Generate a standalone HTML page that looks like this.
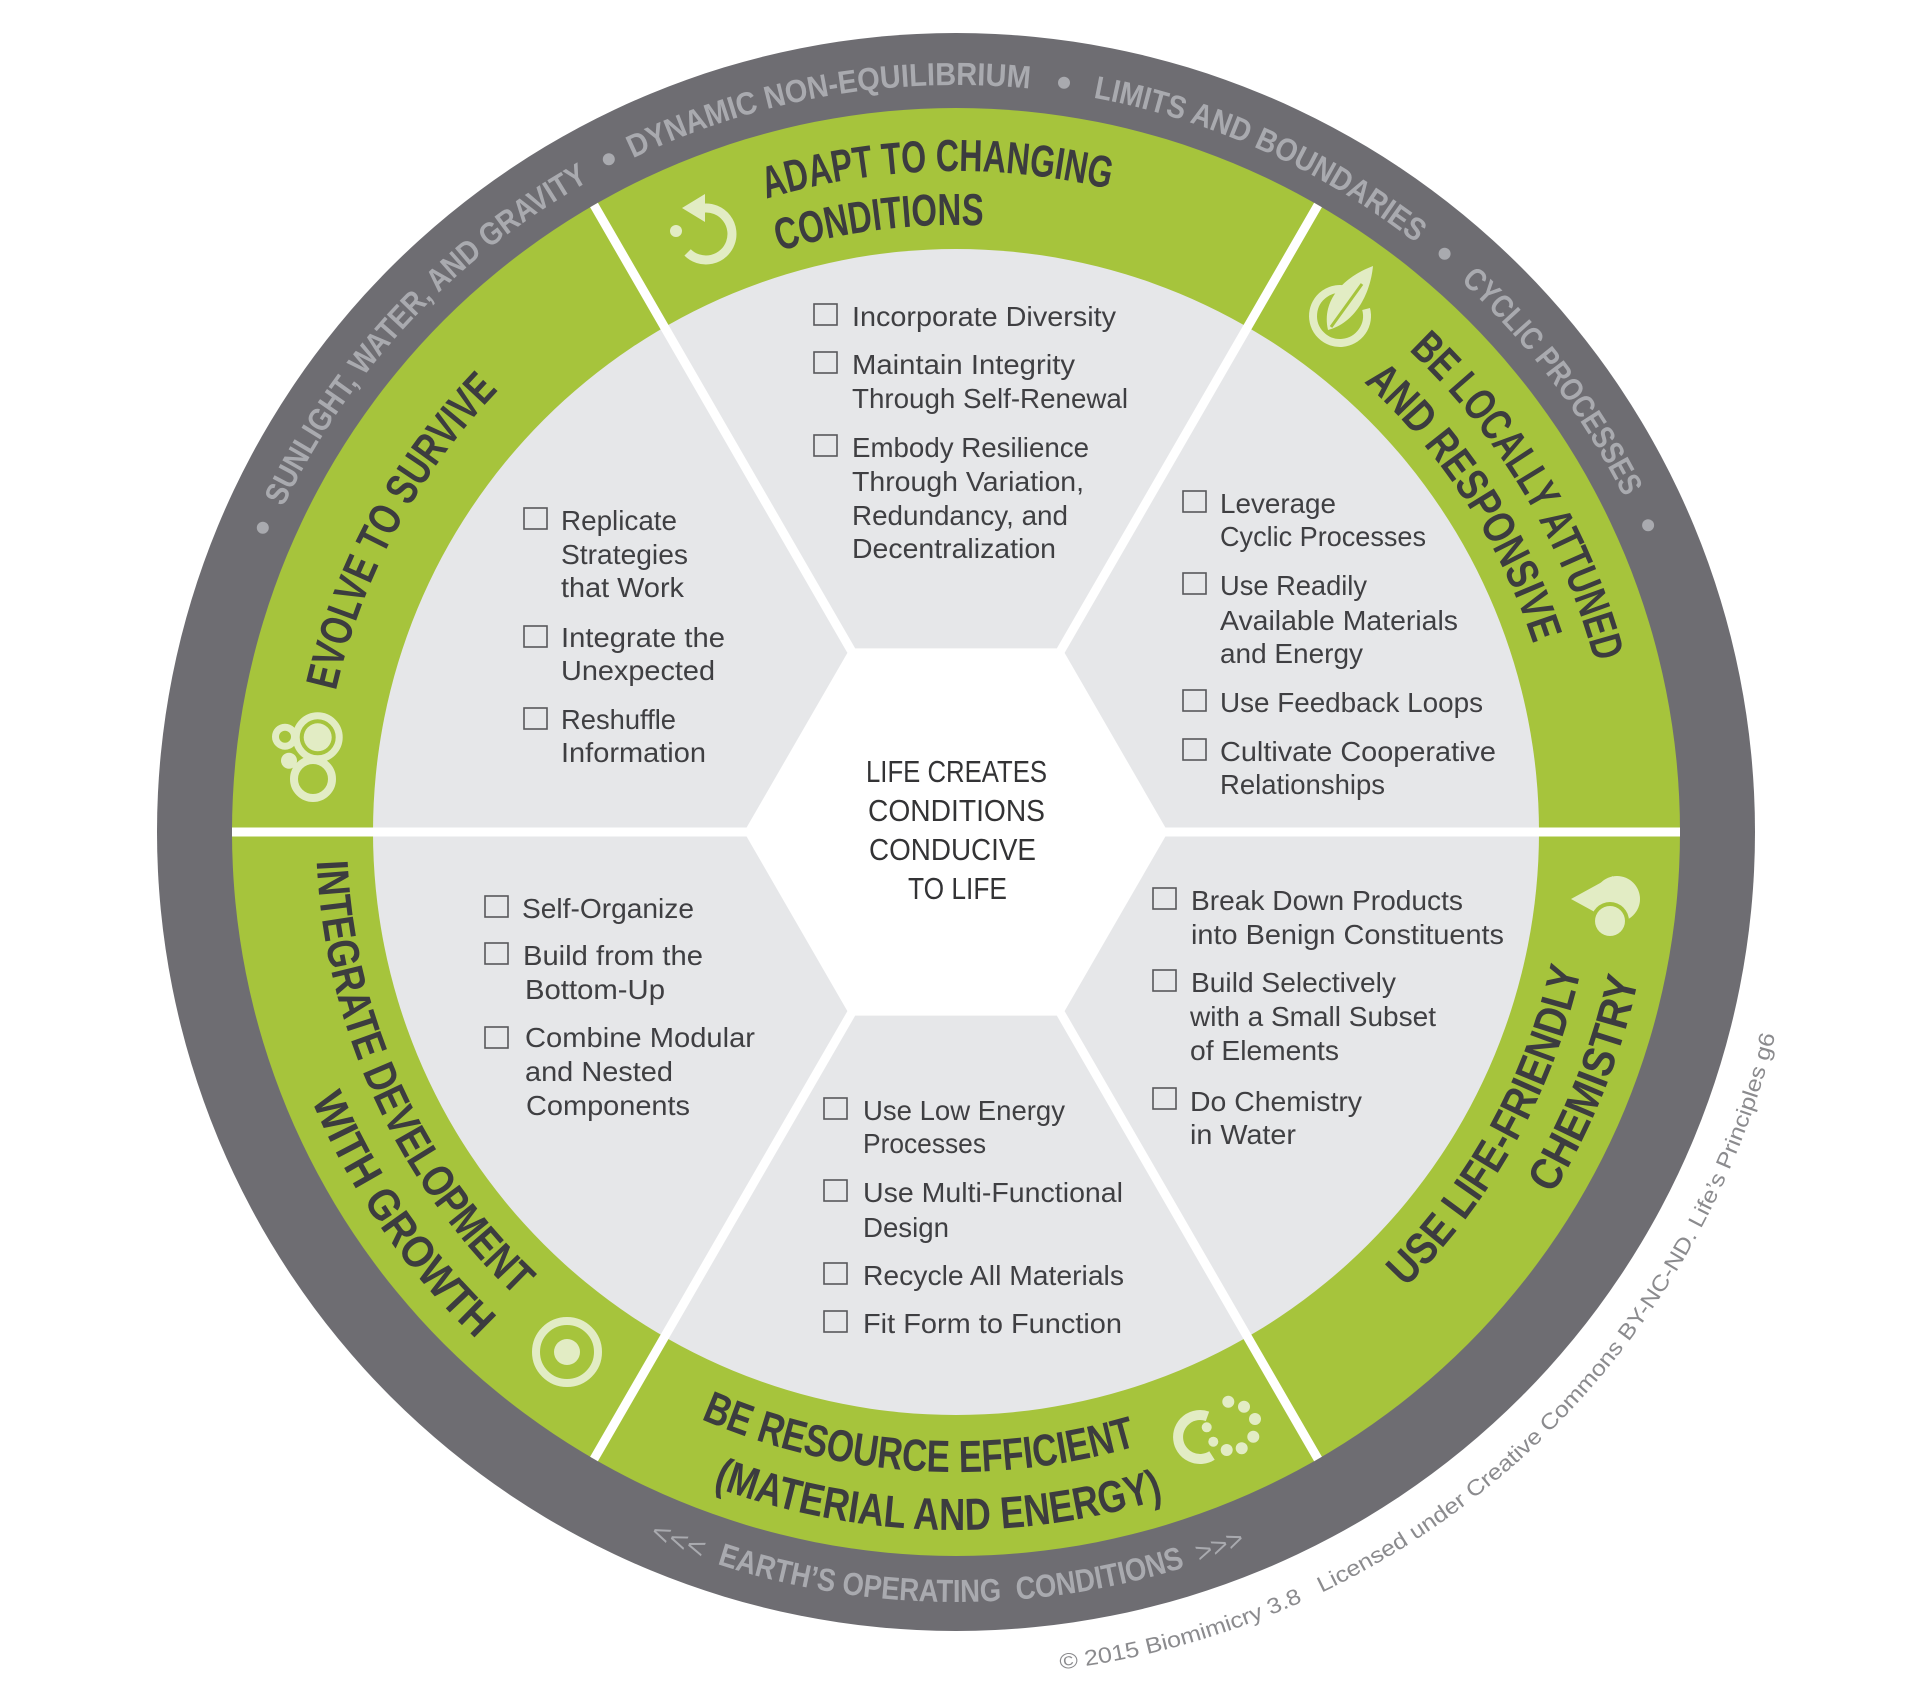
<!DOCTYPE html>
<html>
<head>
<meta charset="utf-8">
<style>
  html,body{margin:0;padding:0;background:#ffffff;}
  svg{display:block;}
  .lbl{font-family:"Liberation Sans Narrow","Liberation Sans",sans-serif;font-weight:bold;font-size:45px;fill:#3c3c3f;}
  .ring{font-family:"Liberation Sans Narrow","Liberation Sans",sans-serif;font-weight:bold;font-size:32px;fill:#a9aaaf;}
  .chev{font-family:"Liberation Sans",sans-serif;font-weight:normal;font-size:28px;fill:#a9aaaf;}
  .li{font-family:"Liberation Sans",sans-serif;font-size:28px;fill:#3f3f42;}
  .ctr{font-family:"Liberation Sans",sans-serif;font-size:31px;fill:#333335;}
  .copy{font-family:"Liberation Sans",sans-serif;font-size:22px;fill:#8b8b8e;white-space:pre;}
  .pre{white-space:pre;}
</style>
</head>
<body>
<svg width="1920" height="1697" viewBox="0 0 1920 1697" xmlns="http://www.w3.org/2000/svg">
  <defs>
    <path id="cw661" d="M956,1493 A661,661 0 1 1 956,171 A661,661 0 1 1 956,1493"/>
    <path id="cw607" d="M956,1439 A607,607 0 1 1 956,225 A607,607 0 1 1 956,1439"/>
    <path id="cw636" d="M956,1468 A636,636 0 1 1 956,196 A636,636 0 1 1 956,1468"/>
    <path id="cw747" d="M956,1579 A747,747 0 1 1 956,85 A747,747 0 1 1 956,1579"/>
    <path id="ccw640" d="M956,192 A640,640 0 1 0 956,1472 A640,640 0 1 0 956,192"/>
    <path id="ccw698" d="M956,134 A698,698 0 1 0 956,1530 A698,698 0 1 0 956,134"/>
    <path id="ccw770" d="M956,62 A770,770 0 1 0 956,1602 A770,770 0 1 0 956,62"/>
    <path id="ccw844" d="M956,-12 A844,844 0 1 0 956,1676 A844,844 0 1 0 956,-12"/>
  </defs>

  <rect x="0" y="0" width="1920" height="1697" fill="#ffffff"/>

  <!-- rings -->
  <circle cx="956" cy="832" r="799" fill="#6e6d72"/>
  <circle cx="956" cy="832" r="724" fill="#a6c43c"/>
  <circle cx="956" cy="832" r="583" fill="#e6e7e9"/>

  <!-- hexagon -->
  <polygon points="1168,832 1062,648.4 850,648.4 744,832 850,1015.6 1062,1015.6" fill="#ffffff"/>

  <!-- dividers -->
  <g stroke="#ffffff" stroke-width="9">
    <line x1="956" y1="832" x2="1680" y2="832"/>
    <line x1="956" y1="832" x2="232" y2="832"/>
    <line x1="956" y1="832" x2="1318" y2="205"/>
    <line x1="956" y1="832" x2="594" y2="205"/>
    <line x1="956" y1="832" x2="594" y2="1459"/>
    <line x1="956" y1="832" x2="1318" y2="1459"/>
  </g>

  <!-- outer ring text -->
  <text class="ring" textLength="453.7" lengthAdjust="spacingAndGlyphs"><textPath href="#cw747" startOffset="1509.8">SUNLIGHT, WATER, AND GRAVITY</textPath></text>
  <text class="ring" textLength="408.1" lengthAdjust="spacingAndGlyphs"><textPath href="#cw747" startOffset="2013">DYNAMIC NON-EQUILIBRIUM</textPath></text>
  <text class="ring" textLength="357.2" lengthAdjust="spacingAndGlyphs"><textPath href="#cw747" startOffset="2485">LIMITS AND BOUNDARIES</textPath></text>
  <text class="ring" textLength="272.5" lengthAdjust="spacingAndGlyphs"><textPath href="#cw747" startOffset="2900.9">CYCLIC PROCESSES</textPath></text>
  <g fill="#a9aaaf">
    <circle cx="262.8" cy="527.8" r="6"/>
    <circle cx="608.8" cy="159.3" r="6"/>
    <circle cx="1064" cy="82.7" r="6"/>
    <circle cx="1444.6" cy="253.8" r="6"/>
    <circle cx="1648.1" cy="525.3" r="6"/>
  </g>
  <text class="chev" textLength="56.4" lengthAdjust="spacingAndGlyphs"><textPath href="#ccw770" startOffset="2103.2">&lt;&lt;&lt;</textPath></text>
  <text class="ring pre" textLength="475.7" lengthAdjust="spacingAndGlyphs"><textPath href="#ccw770" startOffset="2175.8">EARTH’S OPERATING  CONDITIONS</textPath></text>
  <text class="chev" textLength="49.7" lengthAdjust="spacingAndGlyphs"><textPath href="#ccw770" startOffset="2666.3">&gt;&gt;&gt;</textPath></text>

  <!-- green labels -->
  <text class="lbl" textLength="347.2" lengthAdjust="spacingAndGlyphs"><textPath href="#cw661" startOffset="1883.9">ADAPT TO CHANGING</textPath></text>
  <text class="lbl" textLength="206.6" lengthAdjust="spacingAndGlyphs"><textPath href="#cw607" startOffset="1727.9">CONDITIONS</textPath></text>
  <text class="lbl" textLength="368" lengthAdjust="spacingAndGlyphs"><textPath href="#cw661" startOffset="2575">BE LOCALLY ATTUNED</textPath></text>
  <text class="lbl" textLength="315.7" lengthAdjust="spacingAndGlyphs"><textPath href="#cw607" startOffset="2354">AND RESPONSIVE</textPath></text>
  <text class="lbl" textLength="346.3" lengthAdjust="spacingAndGlyphs"><textPath href="#cw636" startOffset="1141.1">EVOLVE TO SURVIVE</textPath></text>
  <text class="lbl" textLength="445.7" lengthAdjust="spacingAndGlyphs"><textPath href="#ccw640" startOffset="1748.1">BE RESOURCE EFFICIENT</textPath></text>
  <text class="lbl" textLength="459.3" lengthAdjust="spacingAndGlyphs"><textPath href="#ccw698" startOffset="1944.3">(MATERIAL AND ENERGY)</textPath></text>
  <text class="lbl" textLength="368.6" lengthAdjust="spacingAndGlyphs"><textPath href="#ccw640" startOffset="2508.8">USE LIFE-FRIENDLY</textPath></text>
  <text class="lbl" textLength="232.7" lengthAdjust="spacingAndGlyphs"><textPath href="#ccw698" startOffset="2907.9">CHEMISTRY</textPath></text>
  <text class="lbl" textLength="490.4" lengthAdjust="spacingAndGlyphs"><textPath href="#ccw640" startOffset="1034.4">INTEGRATE DEVELOPMENT</textPath></text>
  <text class="lbl" textLength="292.4" lengthAdjust="spacingAndGlyphs"><textPath href="#ccw698" startOffset="1371.7">WITH GROWTH</textPath></text>

  <!-- icons -->
  <g fill="#e2ecc4" stroke="none">
    <!-- adapt: circular arrow -->
    <path d="M703.7,208.1 A26,26 0 1 1 687.6,252.4" fill="none" stroke="#e2ecc4" stroke-width="9"/>
    <polygon points="682,208 705,194 705,222"/>
    <circle cx="676" cy="231" r="6"/>

    <!-- leaf -->
    <path d="M1366.1,309 A27,27 0 1 1 1347,289.9" fill="none" stroke="#e2ecc4" stroke-width="8"/>
    <path d="M1328,330 C1321,300 1344,277 1373,266 C1370,296 1354,323 1328,330 Z"/>
    <path d="M1331,327 L1362,284" stroke="#a6c43c" stroke-width="3" fill="none"/>

    <!-- bubbles (evolve) -->
    <circle cx="317.7" cy="737.3" r="21.5" fill="none" stroke="#e2ecc4" stroke-width="7"/>
    <circle cx="317.7" cy="737.3" r="14"/>
    <circle cx="313" cy="779" r="19" fill="none" stroke="#e2ecc4" stroke-width="8"/>
    <circle cx="285" cy="736.7" r="9.5" fill="none" stroke="#e2ecc4" stroke-width="7"/>
    <circle cx="289" cy="760.7" r="8"/>

    <!-- shell (chemistry) -->
    <circle cx="1617" cy="899" r="23"/>
    <polygon points="1571,899 1613,876 1613,922"/>
    <circle cx="1610" cy="921" r="19" fill="#a6c43c"/>
    <circle cx="1610" cy="921" r="15"/>

    <!-- target (integrate) -->
    <circle cx="567" cy="1352" r="31" fill="none" stroke="#e2ecc4" stroke-width="8"/>
    <circle cx="567" cy="1352" r="13"/>

    <!-- resource -->
    <path d="M1212,1455.5 A22,22 0 1 1 1207.5,1416.3" fill="none" stroke="#e2ecc4" stroke-width="10"/>
    <circle cx="1206.7" cy="1427.3" r="5"/>
    <circle cx="1213.3" cy="1441.7" r="5"/>
    <circle cx="1226.7" cy="1450" r="6"/>
    <circle cx="1241.7" cy="1448.3" r="6"/>
    <circle cx="1253.3" cy="1436.7" r="6"/>
    <circle cx="1255" cy="1419" r="6"/>
    <circle cx="1244" cy="1406.7" r="6"/>
    <circle cx="1228.3" cy="1401.7" r="6"/>
  </g>

  <!-- center text -->
  <text class="ctr" x="866" y="782" textLength="181" lengthAdjust="spacingAndGlyphs">LIFE CREATES</text>
  <text class="ctr" x="868" y="821" textLength="177" lengthAdjust="spacingAndGlyphs">CONDITIONS</text>
  <text class="ctr" x="869" y="860" textLength="167" lengthAdjust="spacingAndGlyphs">CONDUCIVE</text>
  <text class="ctr" x="908" y="899" textLength="99" lengthAdjust="spacingAndGlyphs">TO LIFE</text>

  <!-- checkboxes -->
  <g fill="none" stroke="#58585b" stroke-width="1.6">
    <rect x="814" y="304" width="23" height="21"/>
    <rect x="814" y="352" width="23" height="21"/>
    <rect x="814" y="435" width="23" height="21"/>

    <rect x="524" y="508" width="23" height="21"/>
    <rect x="524" y="626" width="23" height="21"/>
    <rect x="524" y="708" width="23" height="21"/>

    <rect x="1183" y="491" width="23" height="21"/>
    <rect x="1183" y="573" width="23" height="21"/>
    <rect x="1183" y="690" width="23" height="21"/>
    <rect x="1183" y="739" width="23" height="21"/>

    <rect x="485" y="896" width="23" height="21"/>
    <rect x="485" y="943" width="23" height="21"/>
    <rect x="485" y="1027" width="23" height="21"/>

    <rect x="1153" y="888" width="23" height="21"/>
    <rect x="1153" y="970" width="23" height="21"/>
    <rect x="1153" y="1088" width="23" height="21"/>

    <rect x="824" y="1098" width="23" height="21"/>
    <rect x="824" y="1180" width="23" height="21"/>
    <rect x="824" y="1263" width="23" height="21"/>
    <rect x="824" y="1311" width="23" height="21"/>
  </g>

  <!-- list text: top -->
  <g class="li">
    <text class="li" x="852" y="326" textLength="264" lengthAdjust="spacingAndGlyphs">Incorporate Diversity</text>
    <text class="li" x="852" y="374" textLength="223" lengthAdjust="spacingAndGlyphs">Maintain Integrity</text>
    <text class="li" x="852" y="408" textLength="276" lengthAdjust="spacingAndGlyphs">Through Self-Renewal</text>
    <text class="li" x="852" y="457" textLength="237" lengthAdjust="spacingAndGlyphs">Embody Resilience</text>
    <text class="li" x="852" y="491" textLength="232" lengthAdjust="spacingAndGlyphs">Through Variation,</text>
    <text class="li" x="852" y="525" textLength="216" lengthAdjust="spacingAndGlyphs">Redundancy, and</text>
    <text class="li" x="852" y="558" textLength="204" lengthAdjust="spacingAndGlyphs">Decentralization</text>

    <!-- upper-left -->
    <text class="li" x="561" y="530" textLength="116" lengthAdjust="spacingAndGlyphs">Replicate</text>
    <text class="li" x="561" y="564" textLength="127" lengthAdjust="spacingAndGlyphs">Strategies</text>
    <text class="li" x="561" y="597" textLength="123" lengthAdjust="spacingAndGlyphs">that Work</text>
    <text class="li" x="561" y="647" textLength="164" lengthAdjust="spacingAndGlyphs">Integrate the</text>
    <text class="li" x="561" y="680" textLength="154" lengthAdjust="spacingAndGlyphs">Unexpected</text>
    <text class="li" x="561" y="729" textLength="115" lengthAdjust="spacingAndGlyphs">Reshuffle</text>
    <text class="li" x="561" y="762" textLength="145" lengthAdjust="spacingAndGlyphs">Information</text>

    <!-- upper-right -->
    <text class="li" x="1220" y="513" textLength="116" lengthAdjust="spacingAndGlyphs">Leverage</text>
    <text class="li" x="1220" y="546" textLength="206" lengthAdjust="spacingAndGlyphs">Cyclic Processes</text>
    <text class="li" x="1220" y="595" textLength="147" lengthAdjust="spacingAndGlyphs">Use Readily</text>
    <text class="li" x="1220" y="630" textLength="238" lengthAdjust="spacingAndGlyphs">Available Materials</text>
    <text class="li" x="1220" y="663" textLength="143" lengthAdjust="spacingAndGlyphs">and Energy</text>
    <text class="li" x="1220" y="712" textLength="263" lengthAdjust="spacingAndGlyphs">Use Feedback Loops</text>
    <text class="li" x="1220" y="761" textLength="276" lengthAdjust="spacingAndGlyphs">Cultivate Cooperative</text>
    <text class="li" x="1220" y="794" textLength="165" lengthAdjust="spacingAndGlyphs">Relationships</text>

    <!-- lower-left -->
    <text class="li" x="522" y="918" textLength="172" lengthAdjust="spacingAndGlyphs">Self-Organize</text>
    <text class="li" x="523" y="965" textLength="180" lengthAdjust="spacingAndGlyphs">Build from the</text>
    <text class="li" x="525" y="999" textLength="140" lengthAdjust="spacingAndGlyphs">Bottom-Up</text>
    <text class="li" x="525" y="1047" textLength="230" lengthAdjust="spacingAndGlyphs">Combine Modular</text>
    <text class="li" x="525" y="1081" textLength="148" lengthAdjust="spacingAndGlyphs">and Nested</text>
    <text class="li" x="526" y="1115" textLength="164" lengthAdjust="spacingAndGlyphs">Components</text>

    <!-- lower-right -->
    <text class="li" x="1191" y="910" textLength="272" lengthAdjust="spacingAndGlyphs">Break Down Products</text>
    <text class="li" x="1191" y="944" textLength="313" lengthAdjust="spacingAndGlyphs">into Benign Constituents</text>
    <text class="li" x="1191" y="992" textLength="205" lengthAdjust="spacingAndGlyphs">Build Selectively</text>
    <text class="li" x="1190" y="1026" textLength="246" lengthAdjust="spacingAndGlyphs">with a Small Subset</text>
    <text class="li" x="1190" y="1060" textLength="149" lengthAdjust="spacingAndGlyphs">of Elements</text>
    <text class="li" x="1190" y="1111" textLength="172" lengthAdjust="spacingAndGlyphs">Do Chemistry</text>
    <text class="li" x="1190" y="1144" textLength="106" lengthAdjust="spacingAndGlyphs">in Water</text>

    <!-- bottom -->
    <text class="li" x="863" y="1120" textLength="202" lengthAdjust="spacingAndGlyphs">Use Low Energy</text>
    <text class="li" x="863" y="1153" textLength="123" lengthAdjust="spacingAndGlyphs">Processes</text>
    <text class="li" x="863" y="1202" textLength="260" lengthAdjust="spacingAndGlyphs">Use Multi-Functional</text>
    <text class="li" x="863" y="1237" textLength="86" lengthAdjust="spacingAndGlyphs">Design</text>
    <text class="li" x="863" y="1285" textLength="261" lengthAdjust="spacingAndGlyphs">Recycle All Materials</text>
    <text class="li" x="863" y="1333" textLength="259" lengthAdjust="spacingAndGlyphs">Fit Form to Function</text>
  </g>

  <!-- copyright -->
  <text class="copy" textLength="1016" lengthAdjust="spacingAndGlyphs"><textPath href="#ccw844" startOffset="2756">© 2015 Biomimicry 3.8   Licensed under Creative Commons BY-NC-ND. Life’s Principles g6</textPath></text>
</svg>
</body>
</html>
